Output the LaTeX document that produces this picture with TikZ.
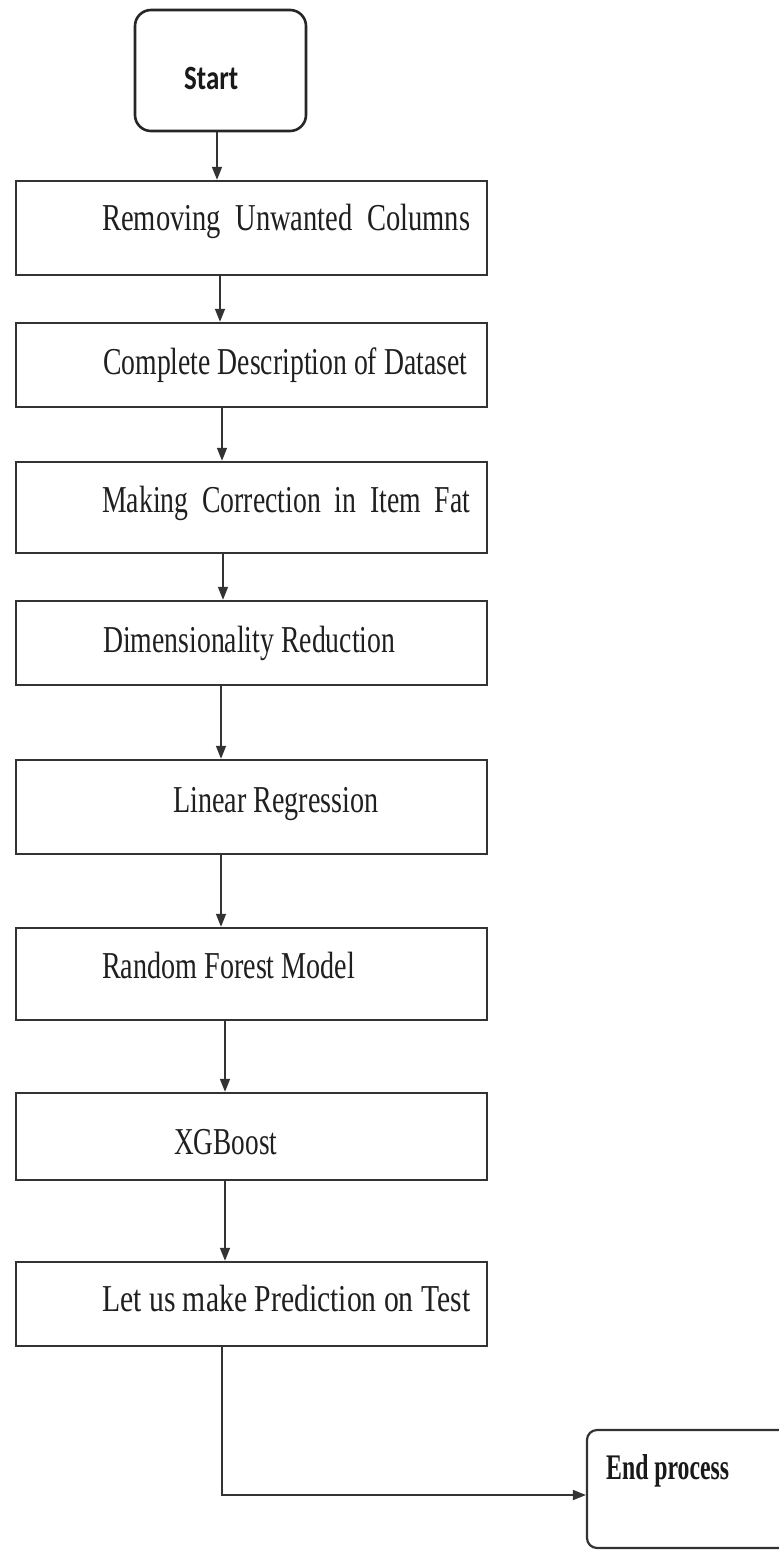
\documentclass[tikz,border=0pt]{standalone}
\usepackage{fontspec}
\setmainfont{Liberation Serif}
\newfontfamily\startfont{Carlito}
\usetikzlibrary{arrows.meta}
% squeeze a label horizontally to a given width, keeping its height
\newcommand{\fitto}[2]{\resizebox{#1}{\height}{#2}}

\begin{document}
\begin{tikzpicture}[x=1pt, y=-1pt,
  stepbox/.style={draw=black!80, line width=2.4pt, minimum width=471pt, inner sep=0pt},
  steptext/.style={anchor=base west, inner sep=0pt, text=black!88,
                   font=\fontsize{38}{40}\selectfont},
  flow/.style={draw=black!80, line width=1.6pt, -{Triangle[length=13pt,width=10pt]}},
]
\path[use as bounding box, fill=white] (0,0) rectangle (779,1550);
\clip (0,0) rectangle (779,1550);

% terminal boxes
\node[draw=black!85, line width=2.6pt, rounded corners=16pt, minimum width=171pt,
      minimum height=121pt, inner sep=0pt] (start) at (220.5,70.5) {};
\node[anchor=base west, inner sep=0pt, text=black!90, font=\startfont\bfseries\fontsize{34}{36}\selectfont]
      (tstart) at (184,89) {\fitto{54pt}{Start}};

\node[draw=black!80, line width=2.2pt, rounded corners=10pt, minimum width=243pt,
      minimum height=118pt, inner sep=0pt] (end) at (708.5,1489) {};
\node[anchor=base west, inner sep=0pt, text=black!90, font=\bfseries\fontsize{36}{38}\selectfont]
      (tend) at (606,1479) {\fitto{123pt}{End process}};

% process steps
\node[stepbox, minimum height=94pt] (b1) at (251.5,228)   {};
\node[stepbox, minimum height=84pt] (b2) at (251.5,365)   {};
\node[stepbox, minimum height=91pt] (b3) at (251.5,507.5) {};
\node[stepbox, minimum height=84pt] (b4) at (251.5,643)   {};
\node[stepbox, minimum height=94pt] (b5) at (251.5,807)   {};
\node[stepbox, minimum height=92pt] (b6) at (251.5,974)   {};
\node[stepbox, minimum height=87pt] (b7) at (251.5,1136.5){};
\node[stepbox, minimum height=84pt] (b8) at (251.5,1304)  {};

\node[steptext] (t1) at (102,230)  {\fitto{368pt}{Removing\ \ Unwanted\ \ Columns}};
\node[steptext] (t2) at (103,374)  {\fitto{364pt}{Complete Description of Dataset}};
\node[steptext] (t3) at (102,512)  {\fitto{368pt}{Making\ \ Correction\ \ in\ \ Item\ \ Fat}};
\node[steptext] (t4) at (103,652)  {\fitto{292pt}{Dimensionality Reduction}};
\node[steptext] (t5) at (173,812)  {\fitto{205pt}{Linear Regression}};
\node[steptext] (t6) at (102,978)  {\fitto{253pt}{Random Forest Model}};
\node[steptext] (t7) at (174,1154) {\fitto{103pt}{XGBoost}};
\node[steptext] (t8) at (102,1311) {\fitto{368pt}{Let us make Prediction on Test}};

% columns the connectors run along
\coordinate (c1) at (217,0);
\coordinate (c2) at (220,0);
\coordinate (c3) at (222,0);
\coordinate (c4) at (223,0);
\coordinate (c5) at (221,0);
\coordinate (c7) at (225,0);

\draw[flow] (start.south -| c1) -- (b1.north -| c1);
\draw[flow] (b1.south -| c2) -- (b2.north -| c2);
\draw[flow] (b2.south -| c3) -- (b3.north -| c3);
\draw[flow] (b3.south -| c4) -- (b4.north -| c4);
\draw[flow] (b4.south -| c5) -- (b5.north -| c5);
\draw[flow] (b5.south -| c5) -- (b6.north -| c5);
\draw[flow] (b6.south -| c7) -- (b7.north -| c7);
\draw[flow] (b7.south -| c7) -- (b8.north -| c7);
\draw[flow] (b8.south -| c3) |- ([yshift=-6pt]end.west);
\end{tikzpicture}
\end{document}
